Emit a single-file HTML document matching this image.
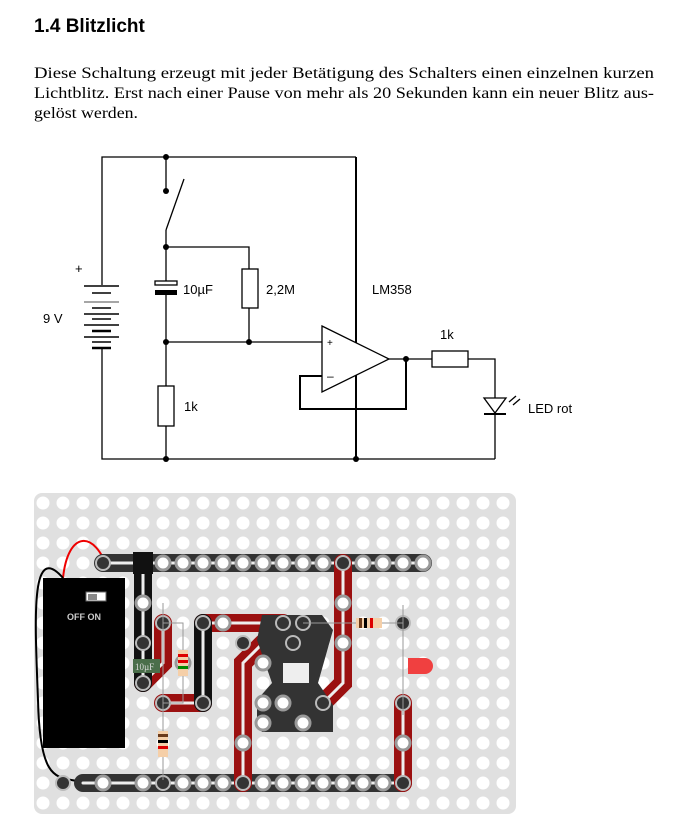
<!DOCTYPE html>
<html><head><meta charset="utf-8"><style>
html,body{margin:0;padding:0;background:#fff;width:679px;height:829px;overflow:hidden}
svg{display:block}
</style></head><body>
<svg width="679" height="829" viewBox="0 0 679 829" xmlns="http://www.w3.org/2000/svg">
<defs>
<pattern id="hp" x="33" y="493" width="20" height="20" patternUnits="userSpaceOnUse">
<rect width="20" height="20" fill="#e0e0e0"/><circle cx="10" cy="10" r="6.5" fill="#fff"/>
</pattern>
</defs>
<text x="34" y="32" font-family="Liberation Sans, sans-serif" font-weight="bold" font-size="19">1.4 Blitzlicht</text>
<g font-family="Liberation Serif, serif" font-size="16">
<text x="34" y="78" textLength="620" lengthAdjust="spacingAndGlyphs">Diese Schaltung erzeugt mit jeder Betätigung des Schalters einen einzelnen kurzen</text>
<text x="34" y="98" textLength="620" lengthAdjust="spacingAndGlyphs">Lichtblitz. Erst nach einer Pause von mehr als 20 Sekunden kann ein neuer Blitz aus-</text>
<text x="34" y="118" textLength="104" lengthAdjust="spacingAndGlyphs">gelöst werden.</text>
</g>
<g stroke="#000" stroke-width="1.3" fill="none">
<polyline points="102,285 102,157 356,157"/>
<polyline points="102,348 102,459 495,459"/>
<line x1="356" y1="157" x2="356" y2="459" stroke-width="2"/>
<line x1="166" y1="157" x2="166" y2="191"/>
<line x1="166" y1="230" x2="184" y2="179"/>
<polyline points="166,230 166,281"/>
<polyline points="166,247 249,247 249,269"/>
<rect x="242" y="269" width="16" height="39" fill="#fff"/>
<polyline points="249,308 249,342"/>
<rect x="155" y="281" width="22" height="4" fill="#fff"/>
<polyline points="166,295 166,386"/>
<line x1="166" y1="342" x2="322" y2="342"/>
<rect x="158" y="386" width="16" height="40" fill="#fff"/>
<line x1="166" y1="426" x2="166" y2="459"/>
<polygon points="322,326 389,359 322,392" fill="#fff"/>
<line x1="389" y1="359" x2="432" y2="359"/>
<polyline points="406,359 406,409 300,409 300,376 322,376" stroke-width="2"/>
<rect x="432" y="351" width="36" height="16" fill="#fff"/>
<polyline points="468,359 495,359 495,459"/>
<polygon points="484,398 506,398 495,413" fill="#fff"/>
<line x1="484" y1="414" x2="506" y2="414" stroke-width="2"/>
<line x1="509" y1="402" x2="516" y2="396"/><line x1="513" y1="405" x2="520" y2="399"/>
</g>
<rect x="155" y="290" width="22" height="5" fill="#000"/>
<g stroke="#000" stroke-width="1.5">
<line x1="84" y1="286" x2="119" y2="286"/><line x1="92" y1="293" x2="111" y2="293"/>
<line x1="84" y1="302" x2="119" y2="302" stroke="#888"/><line x1="92" y1="308" x2="111" y2="308"/>
<line x1="84" y1="314" x2="119" y2="314"/><line x1="92" y1="319" x2="111" y2="319"/>
<line x1="84" y1="325" x2="119" y2="325"/><line x1="92" y1="331" x2="111" y2="331" stroke-width="2.5"/>
<line x1="84" y1="337" x2="119" y2="337"/><line x1="92" y1="342" x2="111" y2="342"/>
<line x1="92" y1="348" x2="111" y2="348" stroke-width="2.5"/>
</g>
<g fill="#000">
<circle cx="166" cy="157" r="3"/><circle cx="166" cy="191" r="3"/><circle cx="166" cy="247" r="3"/>
<circle cx="166" cy="342" r="3"/><circle cx="249" cy="342" r="3"/><circle cx="166" cy="459" r="3"/>
<circle cx="356" cy="459" r="3"/><circle cx="406" cy="359" r="3"/>
</g>
<g font-family="Liberation Sans, sans-serif" font-size="13" fill="#000">
<text x="75" y="273">+</text><text x="43" y="323">9 V</text>
<text x="183" y="294">10µF</text><text x="266" y="294">2,2M</text><text x="372" y="294">LM358</text>
<text x="440" y="339">1k</text><text x="184" y="411">1k</text><text x="528" y="413">LED rot</text>
<text x="327" y="346" font-size="10">+</text><text x="327" y="380" font-size="12">–</text>
</g>
<rect x="34" y="493" width="482" height="321" rx="8" fill="url(#hp)"/>
<rect x="43" y="578" width="82" height="170" fill="#000"/>
<rect x="86" y="592" width="20" height="9" fill="#fff" stroke="#666"/><rect x="88" y="594" width="9" height="6" fill="#888"/>
<text x="67" y="620" font-family="Liberation Sans, sans-serif" font-size="9" font-weight="bold" fill="#ccc">OFF  ON</text>
<path d="M63,578 C68,530 95,530 108,570" stroke="#e00" stroke-width="2" fill="none"/>
<path d="M63,578 C30,540 35,620 38,700 C40,790 60,775 85,783" stroke="#000" stroke-width="2" fill="none"/>
<g stroke-linecap="round" fill="none">
<line x1="103" y1="563" x2="423" y2="563" stroke="#333" stroke-width="18"/>
<line x1="83" y1="783" x2="403" y2="783" stroke="#333" stroke-width="18"/>
<line x1="103" y1="563" x2="423" y2="563" stroke="#eee" stroke-width="3"/>
<line x1="83" y1="783" x2="403" y2="783" stroke="#eee" stroke-width="3"/>
<g stroke="#9b1010" stroke-width="18">
<polyline points="343,563 343,683 323,703"/>
<polyline points="163,623 163,663 143,683"/><polyline points="163,703 203,703"/>
<polyline points="203,623 283,623"/><polyline points="263,643 243,663 243,783"/>
<line x1="403" y1="703" x2="403" y2="783"/>
</g>
<g stroke="#eee" stroke-width="3">
<polyline points="343,563 343,683 323,703"/>
<polyline points="163,623 163,663 143,683"/><polyline points="163,703 203,703"/>
<polyline points="203,623 283,623"/><polyline points="263,643 243,663 243,783"/>
<line x1="403" y1="703" x2="403" y2="783"/>
</g>
<line x1="143" y1="563" x2="143" y2="683" stroke="#111" stroke-width="18"/>
<line x1="203" y1="623" x2="203" y2="703" stroke="#111" stroke-width="18"/>
<line x1="143" y1="563" x2="143" y2="683" stroke="#eee" stroke-width="3"/>
<line x1="203" y1="623" x2="203" y2="703" stroke="#eee" stroke-width="3"/>
</g>
<polygon points="262,615 322,615 333,630 318,683 333,705 333,732 262,732 257,725 257,700 272,683 257,640" fill="#333"/>
<rect x="283" y="663" width="26" height="20" fill="#eee"/>
<g fill="#fff" stroke="#999" stroke-width="3">
<circle cx="143" cy="603" r="7"/><circle cx="223" cy="623" r="7"/><circle cx="183" cy="663" r="7"/>
<circle cx="263" cy="663" r="7"/><circle cx="263" cy="703" r="7"/><circle cx="243" cy="743" r="7"/>
<circle cx="283" cy="703" r="7"/><circle cx="263" cy="723" r="7"/><circle cx="303" cy="723" r="7"/>
<circle cx="343" cy="603" r="7"/><circle cx="343" cy="643" r="7"/><circle cx="403" cy="743" r="7"/>
<circle cx="163" cy="563" r="7"/><circle cx="183" cy="563" r="7"/><circle cx="203" cy="563" r="7"/><circle cx="223" cy="563" r="7"/><circle cx="243" cy="563" r="7"/><circle cx="263" cy="563" r="7"/><circle cx="283" cy="563" r="7"/><circle cx="303" cy="563" r="7"/><circle cx="323" cy="563" r="7"/><circle cx="363" cy="563" r="7"/><circle cx="383" cy="563" r="7"/><circle cx="403" cy="563" r="7"/><circle cx="423" cy="563" r="7"/>
<circle cx="103" cy="783" r="7"/><circle cx="143" cy="783" r="7"/><circle cx="183" cy="783" r="7"/><circle cx="203" cy="783" r="7"/><circle cx="223" cy="783" r="7"/><circle cx="263" cy="783" r="7"/><circle cx="283" cy="783" r="7"/><circle cx="303" cy="783" r="7"/><circle cx="323" cy="783" r="7"/><circle cx="343" cy="783" r="7"/><circle cx="363" cy="783" r="7"/><circle cx="383" cy="783" r="7"/>
</g>
<g fill="#333" stroke="#bbb" stroke-width="2">
<circle cx="103" cy="563" r="7"/><circle cx="343" cy="563" r="7"/><circle cx="143" cy="643" r="7"/><circle cx="143" cy="683" r="7"/>
<circle cx="163" cy="623" r="7"/><circle cx="163" cy="703" r="7"/><circle cx="203" cy="623" r="7"/><circle cx="203" cy="703" r="7"/>
<circle cx="283" cy="623" r="7"/><circle cx="303" cy="623" r="7"/><circle cx="243" cy="643" r="7"/><circle cx="293" cy="643" r="7"/>
<circle cx="323" cy="703" r="7"/><circle cx="403" cy="623" r="7"/><circle cx="403" cy="703" r="7"/>
<circle cx="63" cy="783" r="7"/><circle cx="163" cy="783" r="7"/><circle cx="243" cy="783" r="7"/><circle cx="403" cy="783" r="7"/>
</g>
<polygon points="133,552 153,552 153,574 133,574" fill="#111"/>
<rect x="133" y="659" width="27" height="14" fill="#4a6e4a"/><text x="135" y="670" font-family="Liberation Serif, serif" font-size="9" fill="#ddd">10µF</text>
<g stroke="#999" stroke-width="1" fill="none"><polyline points="163,623 183,623 183,703 163,703"/><line x1="163" y1="603" x2="163" y2="780"/><line x1="303" y1="623" x2="403" y2="623"/><line x1="403" y1="605" x2="403" y2="715"/></g>
<rect x="178" y="650" width="10" height="26" fill="#f5cfa8"/><rect x="178" y="654" width="10" height="3" fill="#d00"/><rect x="178" y="660" width="10" height="3" fill="#d00"/><rect x="178" y="666" width="10" height="3" fill="#080"/>
<rect x="158" y="731" width="10" height="26" fill="#f5cfa8"/><rect x="158" y="734" width="10" height="3" fill="#6a3a1a"/><rect x="158" y="740" width="10" height="3" fill="#000"/><rect x="158" y="746" width="10" height="3" fill="#d00"/>
<rect x="356" y="618" width="26" height="10" fill="#f5cfa8"/><rect x="359" y="618" width="3" height="10" fill="#6a3a1a"/><rect x="364" y="618" width="3" height="10" fill="#000"/><rect x="370" y="618" width="3" height="10" fill="#d00"/>
<path d="M408,658 h17 a8,8 0 0 1 0,16 h-17 z" fill="#f04040"/>
</svg>
</body></html>
